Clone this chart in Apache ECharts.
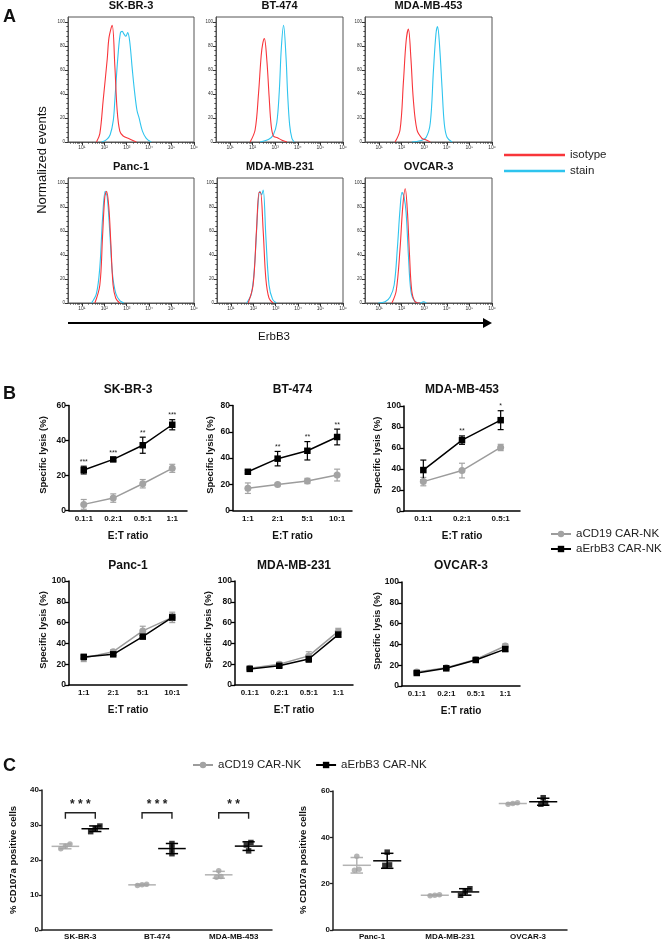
<!DOCTYPE html>
<html><head><meta charset="utf-8">
<script src="https://cdn.jsdelivr.net/npm/echarts@6/dist/echarts.min.js"></script>
<style>html,body{margin:0;padding:0;background:#fff}#c{width:662px;height:944px}</style>
</head><body><div id="c"></div>
<script>
// ================= DATA =================
// Panel A: flow cytometry histograms, x = log10(ErbB3 fluorescence), y = normalized events (%)
const flowCells = ['SK-BR-3','BT-474','MDA-MB-453','Panc-1','MDA-MB-231','OVCAR-3'];
const flowTickValues = [1,2,3,4,5,6];
const flowTickLabels = ['10¹','10²','10³','10⁴','10⁵','10⁶'];
const flowYTicks = [0,20,40,60,80,100];
const isotypeCurves = [
  [[1.65,0],[1.8,7],[1.95,35],[2.13,69],[2.21,87],[2.35,97],[2.47,63],[2.57,27],[2.69,9],[2.84,5],[3.13,2.5],[3.43,0]],
  [[1.89,0],[2.11,10],[2.26,40],[2.38,72],[2.45,82],[2.52,86],[2.63,68],[2.73,38],[2.82,14],[2.92,5],[3.1,3.5],[3.3,1.5],[3.52,0]],
  [[1.71,0],[1.93,10],[2.08,50],[2.2,84],[2.3,94],[2.41,70],[2.52,35],[2.68,10],[2.9,3],[3.04,2],[3.27,0]],
  [[1.58,0],[1.8,15],[1.92,55],[2.02,88],[2.1,93],[2.2,80],[2.29,50],[2.39,15],[2.51,4],[2.69,0]],
  [[1.77,0],[1.99,15],[2.14,60],[2.26,92],[2.32,92],[2.44,60],[2.56,20],[2.7,4],[2.88,0]],
  [[1.57,0],[1.76,10],[1.93,45],[2.05,80],[2.16,95],[2.26,75],[2.35,40],[2.45,10],[2.6,1],[2.82,0]]
];
const stainCurves = [
  [[1.88,0],[2.1,2],[2.26,6],[2.4,18],[2.47,35],[2.61,72],[2.72,91],[2.8,92],[2.87,90],[2.96,88],[3.04,91],[3.13,84],[3.25,60],[3.36,40],[3.46,26],[3.55,20],[3.7,9],[3.87,3],[4.09,0]],
  [[2.33,0],[2.7,2],[2.92,6],[3.07,16],[3.18,42],[3.27,78],[3.37,97],[3.48,70],[3.55,40],[3.64,14],[3.74,3],[3.84,0]],
  [[2.45,0],[2.82,1],[3.09,4],[3.27,16],[3.41,60],[3.52,90],[3.59,96],[3.68,80],[3.79,45],[3.89,15],[4.01,4],[4.23,0]],
  [[1.43,0],[1.65,8],[1.8,30],[1.92,70],[2.04,93],[2.13,88],[2.24,60],[2.36,25],[2.51,8],[2.69,2],[2.87,0]],
  [[1.7,0],[1.92,8],[2.07,35],[2.22,85],[2.29,93],[2.37,90],[2.44,94],[2.56,55],[2.7,15],[2.86,3],[3.03,0]],
  [[0.97,0],[1.27,1],[1.49,5],[1.67,15],[1.81,45],[1.93,78],[2.02,92],[2.11,88],[2.2,75],[2.3,40],[2.41,10],[2.56,2],[2.82,0],[2.96,1],[3.1,0]]
];

// Panel B: specific lysis (%), mean and SD
const lysisCells = ['SK-BR-3','BT-474','MDA-MB-453','Panc-1','MDA-MB-231','OVCAR-3'];
const ratiosSKBR3 = ['0.1:1','0.2:1','0.5:1','1:1'];
const ratiosBT474 = ['1:1','2:1','5:1','10:1'];
const ratiosMDA453 = ['0.1:1','0.2:1','0.5:1'];
const ratiosPanc1 = ['1:1','2:1','5:1','10:1'];
const ratiosMDA231 = ['0.1:1','0.2:1','0.5:1','1:1'];
const ratiosOVCAR3 = ['0.1:1','0.2:1','0.5:1','1:1'];
const lysisYMax = [60,80,100,100,100,100];
const cd19Mean = [[3.5,7.1,15.3,24.1],[17,19.8,22.5,27],[28,38.5,60.5],[26,32,52,65],[16,20,28,51.5],[13.5,17.5,25.5,38.5]];
const cd19SD   = [[2.8,2.4,2.4,2.3],[4,1,2,4.5],[4,7,3],[3.5,2,4.5,5],[1,2,4,3],[1,1,1,2]];
const erbb3Mean = [[23.1,29.2,37.3,49.0],[29.5,39.5,45.5,56],[39,67.5,86.5],[27,29.5,46.5,65],[15.5,18.5,25,48.5],[12.5,17,25,35.5]];
const erbb3SD   = [[2.2,0.9,4.6,2.9],[1,5.5,7,6],[9.5,4,9],[1.5,1,1,3],[1,1.5,3,2.5],[1,1,1,2]];
const lysisStars = [['***','***','**','***'],['','**','**','**'],['','**','*'],[],[],[]];

// Panel C: % CD107a positive cells (replicates)
const cdCellsLeft = ['SK-BR-3','BT-474','MDA-MB-453'];
const cdCD19Left  = [[23.2,23.9,24.6],[12.7,12.9,13.1],[15.1,15.3,16.9]];
const cdErbB3Left = [[28.1,29.0,29.7],[21.8,23.3,24.7],[22.6,24.3,25.0]];
const cdSigLeft   = ['* * *','* * *','* *'];
const cdCellsRight = ['Panc-1','MDA-MB-231','OVCAR-3'];
const cdCD19Right  = [[25.8,26.2,31.8],[14.8,15.0,15.2],[54.3,54.6,54.9]];
const cdErbB3Right = [[27.9,28.1,33.6],[15.0,16.5,17.8],[54.3,54.7,57.1]];

// ================= BUILD =================
const FONT = '"Liberation Sans", Arial, Helvetica, sans-serif';
const RED = '#f8353a', BLUE = '#2ec4ee', GRAY = '#a3a3a3', BLACK = '#000';
const grid = [], xAxis = [], yAxis = [], series = [], graphic = [];

function txt(x, y, text, size, o) {
  o = o || {};
  graphic.push({type:'text', x, y, rotation:o.rot||0, silent:true, z:100,
    style:{text, fontSize:size, fontWeight:o.bold?'bold':'normal', fontFamily:FONT,
      fill:o.color||'#111', align:o.align||'center', verticalAlign:'middle'}});
}

// ---------- Panel A ----------
const aBoxes = [
  {l:68,t:17,w:126,h:125},{l:216,t:17,w:127,h:125},{l:365,t:17,w:127,h:125},
  {l:68,t:178,w:126,h:125},{l:217,t:178,w:126,h:125},{l:365,t:178,w:127,h:125}];
const A_XMIN = 0.38, A_XMAX = 6.0, A_YMAX = 104;
const xMinor = [];
for (let n = 0; n < 6; n++) for (let k = 2; k < 10; k++) {
  const v = n + Math.log10(k); if (v > A_XMIN && v < A_XMAX) xMinor.push(v);
}
const yMinor = [];
for (let v = 4; v < 100; v += 4) if (v % 20) yMinor.push(v);

aBoxes.forEach((b, i) => {
  const gi = grid.length;
  grid.push({left:b.l, top:b.t, width:b.w, height:b.h, show:true, borderColor:'#555', borderWidth:1});
  const xi = xAxis.length;
  xAxis.push({type:'value', gridIndex:gi, position:'bottom', min:A_XMIN, max:A_XMAX,
    axisLine:{show:true, onZero:false, lineStyle:{color:'#555', width:1}}, splitLine:{show:false},
    axisTick:{show:true, length:3, customValues:flowTickValues, lineStyle:{color:'#333'}},
    axisLabel:{customValues:flowTickValues, formatter:(v)=>flowTickLabels[flowTickValues.indexOf(Math.round(v))]||'',
      fontSize:5, color:'#333', margin:3, fontFamily:FONT, showMinLabel:true, showMaxLabel:true, hideOverlap:false}});
  xAxis.push({type:'value', gridIndex:gi, position:'bottom', min:A_XMIN, max:A_XMAX, axisLine:{show:false, onZero:false}, splitLine:{show:false},
    axisTick:{show:true, length:1.6, customValues:xMinor, lineStyle:{color:'#444'}}, axisLabel:{show:false}});
  const yi = yAxis.length;
  yAxis.push({type:'value', gridIndex:gi, position:'left', min:0, max:A_YMAX,
    axisLine:{show:true, onZero:false, lineStyle:{color:'#555', width:1}}, splitLine:{show:false},
    axisTick:{show:true, length:3, customValues:flowYTicks, lineStyle:{color:'#333'}},
    axisLabel:{customValues:flowYTicks, fontSize:4.5, color:'#333', margin:3, fontFamily:FONT}});
  yAxis.push({type:'value', gridIndex:gi, position:'left', min:0, max:A_YMAX, axisLine:{show:false, onZero:false}, splitLine:{show:false},
    axisTick:{show:true, length:1.6, customValues:yMinor, lineStyle:{color:'#444'}}, axisLabel:{show:false}});
  series.push({type:'line', name:'stain', xAxisIndex:xi, yAxisIndex:yi, data:stainCurves[i], smooth:0.35,
    symbol:'none', lineStyle:{color:BLUE, width:1.1}, itemStyle:{color:BLUE}, silent:true, z:3});
  series.push({type:'line', name:'isotype', xAxisIndex:xi, yAxisIndex:yi, data:isotypeCurves[i], smooth:0.35,
    symbol:'none', lineStyle:{color:RED, width:1.1}, itemStyle:{color:RED}, silent:true, z:4});
  txt(b.l + b.w/2, b.t - 11.5, flowCells[i], 11, {bold:true});
});
txt(3, 17, 'A', 18, {bold:true, align:'left'});
txt(42, 160, 'Normalized events', 13, {rot:Math.PI/2});
graphic.push({type:'line', silent:true, shape:{x1:68, y1:323, x2:484, y2:323}, style:{stroke:'#000', lineWidth:2}});
graphic.push({type:'polygon', silent:true, shape:{points:[[483,318],[492,323],[483,328]]}, style:{fill:'#000'}});
txt(274, 337, 'ErbB3', 11.5);

// ---------- Panel B ----------
const bBoxes = [
  {l:69,t:405.5,w:118,h:105},{l:233,t:405.5,w:119,h:105},{l:404,t:406,w:116,h:105},
  {l:69,t:581,w:118,h:104},{l:235,t:581,w:118,h:104},{l:402,t:582,w:118,h:104}];
const bRatios = [ratiosSKBR3, ratiosBT474, ratiosMDA453, ratiosPanc1, ratiosMDA231, ratiosOVCAR3];
const bYNameX = [43,210,377,43,208,377];

function errRender(color, cap) {
  return function(params, api) {
    const x = api.value(0), m = api.value(1), s = api.value(2);
    const p1 = api.coord([x, m + s]), p2 = api.coord([x, m - s]);
    const st = {stroke:color, lineWidth:1.2};
    return {type:'group', children:[
      {type:'line', shape:{x1:p1[0], y1:p1[1], x2:p2[0], y2:p2[1]}, style:st},
      {type:'line', shape:{x1:p1[0]-cap, y1:p1[1], x2:p1[0]+cap, y2:p1[1]}, style:st},
      {type:'line', shape:{x1:p2[0]-cap, y1:p2[1], x2:p2[0]+cap, y2:p2[1]}, style:st}]};
  };
}

bBoxes.forEach((b, i) => {
  const gi = grid.length;
  grid.push({left:b.l, top:b.t, width:b.w, height:b.h});
  const xi = xAxis.length, yi = yAxis.length;
  xAxis.push({type:'category', gridIndex:gi, position:'bottom', data:bRatios[i], boundaryGap:true,
    axisLine:{onZero:false, lineStyle:{color:'#000', width:1.5}},
    axisTick:{alignWithLabel:true, length:4, lineStyle:{color:'#000', width:1.3}},
    axisLabel:{fontSize:8, fontWeight:'bold', color:'#111', margin:4, fontFamily:FONT, interval:0}});
  yAxis.push({type:'value', gridIndex:gi, position:'left', min:0, max:lysisYMax[i], interval:20, splitLine:{show:false},
    axisLine:{show:true, onZero:false, lineStyle:{color:'#000', width:1.5}},
    axisTick:{show:true, length:4, lineStyle:{color:'#000', width:1.3}},
    axisLabel:{fontSize:8.5, fontWeight:'bold', color:'#111', margin:3, fontFamily:FONT}});
  series.push({type:'custom', xAxisIndex:xi, yAxisIndex:yi, renderItem:errRender(GRAY, 3), silent:true, z:2,
    data:cd19Mean[i].map((m, k) => [k, m, cd19SD[i][k]])});
  series.push({type:'custom', xAxisIndex:xi, yAxisIndex:yi, renderItem:errRender(BLACK, 3), silent:true, z:2,
    data:erbb3Mean[i].map((m, k) => [k, m, erbb3SD[i][k]])});
  series.push({type:'line', name:'aCD19 CAR-NK', xAxisIndex:xi, yAxisIndex:yi, data:cd19Mean[i],
    symbol:'circle', symbolSize:7, lineStyle:{color:'#9c9c9c', width:1.5}, itemStyle:{color:GRAY}, silent:true, z:3});
  series.push({type:'line', name:'aErbB3 CAR-NK', xAxisIndex:xi, yAxisIndex:yi, data:erbb3Mean[i],
    symbol:'rect', symbolSize:6.5, lineStyle:{color:BLACK, width:1.5}, itemStyle:{color:BLACK}, silent:true, z:4});
  const stars = lysisStars[i];
  if (stars.length) {
    series.push({type:'custom', xAxisIndex:xi, yAxisIndex:yi, silent:true, z:5,
      data:erbb3Mean[i].map((m, k) => [k, m + erbb3SD[i][k]]),
      renderItem:(params, api) => {
        const s = stars[params.dataIndex]; if (!s) return null;
        const p = api.coord([api.value(0), api.value(1)]);
        return {type:'text', x:p[0], y:p[1] - 4.5, style:{text:s, fontSize:7, fontFamily:FONT, fill:'#222', align:'center', verticalAlign:'middle'}};
      }});
  }
  txt(b.l + b.w/2, i < 3 ? 390 : 566, lysisCells[i], 12, {bold:true});
  txt(bYNameX[i], b.t + b.h/2 - 3, 'Specific lysis (%)', 9.5, {bold:true, rot:Math.PI/2});
  txt(b.l + b.w/2, b.t + b.h + 25.5, 'E:T ratio', 10, {bold:true});
});
txt(3, 394, 'B', 18, {bold:true, align:'left'});

// ---------- Panel C ----------
const cPanels = [
  {l:42, t:790, w:230, h:140, ymax:40, iv:10, cells:cdCellsLeft, g:cdCD19Left, k:cdErbB3Left, sig:cdSigLeft, nameX:13},
  {l:333, t:791, w:234, h:139, ymax:60, iv:20, cells:cdCellsRight, g:cdCD19Right, k:cdErbB3Right, sig:null, nameX:303}];
const GROUP_OFF = 0.195, MEAN_HALF = 0.18, CAP_HALF = 0.08, SPREAD = 0.06;
const BRACKET_AT = 33.5;

function spreadOffsets(vals, pxPerUnit) {
  const idx = vals.map((v, i) => i).sort((a, b) => vals[a] - vals[b]);
  const off = vals.map(() => 0);
  const clusters = [[idx[0]]];
  for (let j = 1; j < idx.length; j++) {
    const c = clusters[clusters.length - 1];
    if ((vals[idx[j]] - vals[c[c.length - 1]]) * pxPerUnit < 4.5) c.push(idx[j]); else clusters.push([idx[j]]);
  }
  clusters.forEach(c => c.forEach((ii, j) => off[ii] = (j - (c.length - 1) / 2) * SPREAD));
  return off;
}
const meanOf = a => a.reduce((s, v) => s + v, 0) / a.length;
const sdOf = a => { const m = meanOf(a); return Math.sqrt(a.reduce((s, v) => s + (v - m) * (v - m), 0) / (a.length - 1)); };

function meanSdRender(color) {
  return function(params, api) {
    const x = api.value(0), m = api.value(1), s = api.value(2);
    const a = api.coord([x - MEAN_HALF, m]), b = api.coord([x + MEAN_HALF, m]);
    const t = api.coord([x, m + s]), d = api.coord([x, m - s]);
    const cl = api.coord([x - CAP_HALF, m]), cr = api.coord([x + CAP_HALF, m]);
    const st = {stroke:color, lineWidth:1.5};
    return {type:'group', children:[
      {type:'line', shape:{x1:a[0], y1:a[1], x2:b[0], y2:b[1]}, style:st},
      {type:'line', shape:{x1:t[0], y1:t[1], x2:d[0], y2:d[1]}, style:st},
      {type:'line', shape:{x1:cl[0], y1:t[1], x2:cr[0], y2:t[1]}, style:st},
      {type:'line', shape:{x1:cl[0], y1:d[1], x2:cr[0], y2:d[1]}, style:st}]};
  };
}

cPanels.forEach(p => {
  const gi = grid.length;
  grid.push({left:p.l, top:p.t, width:p.w, height:p.h});
  xAxis.push({type:'category', gridIndex:gi, position:'bottom', data:p.cells, boundaryGap:true,
    axisLine:{onZero:false, lineStyle:{color:'#222', width:1.5}},
    axisTick:{alignWithLabel:true, length:3, lineStyle:{color:'#222', width:1.3}},
    axisLabel:{fontSize:8, fontWeight:'bold', color:'#111', margin:3, fontFamily:FONT, interval:0}});
  const xv = xAxis.length;
  xAxis.push({type:'value', gridIndex:gi, position:'bottom', min:-0.5, max:2.5, show:false, axisLine:{onZero:false}});
  const yi = yAxis.length;
  yAxis.push({type:'value', gridIndex:gi, position:'left', min:0, max:p.ymax, interval:p.iv, splitLine:{show:false},
    axisLine:{show:true, onZero:false, lineStyle:{color:'#222', width:1.5}},
    axisTick:{show:true, length:3, lineStyle:{color:'#222', width:1.3}},
    axisLabel:{fontSize:8, fontWeight:'bold', color:'#111', margin:3, fontFamily:FONT}});
  const ppu = p.h / p.ymax;
  [[p.g, -GROUP_OFF, GRAY, '#b3b3b3', 'circle'], [p.k, GROUP_OFF, BLACK, BLACK, 'rect']].forEach(([groups, go, col, lineCol, sym]) => {
    series.push({type:'custom', xAxisIndex:xv, yAxisIndex:yi, silent:true, z:3, renderItem:meanSdRender(lineCol),
      data:groups.map((vals, ci) => [ci + go, meanOf(vals), sdOf(vals)])});
    const pts = [];
    groups.forEach((vals, ci) => { const off = spreadOffsets(vals, ppu); vals.forEach((v, j) => pts.push([ci + go + off[j], v])); });
    series.push({type:'scatter', xAxisIndex:xv, yAxisIndex:yi, data:pts, symbol:sym, symbolSize:5.5,
      itemStyle:{color:col}, silent:true, z:4});
  });
  if (p.sig) {
    const sig = p.sig;
    series.push({type:'custom', xAxisIndex:xv, yAxisIndex:yi, silent:true, z:5,
      data:sig.map((s, ci) => [ci, BRACKET_AT]),
      renderItem:(params, api) => {
        const ci = api.value(0), y = api.value(1);
        const a = api.coord([ci - GROUP_OFF, y]), b = api.coord([ci + GROUP_OFF, y]);
        const st = {stroke:'#222', lineWidth:1.4, fill:null};
        return {type:'group', children:[
          {type:'polyline', shape:{points:[[a[0], a[1] + 6], [a[0], a[1]], [b[0], b[1]], [b[0], b[1] + 6]]}, style:st},
          {type:'text', x:(a[0] + b[0]) / 2, y:a[1] - 8, style:{text:sig[params.dataIndex], fontSize:12, fontWeight:'bold', fontFamily:FONT, fill:'#222', align:'center', verticalAlign:'middle'}}]};
      }});
  }
  txt(p.nameX, 860, '% CD107a positive cells', 9.5, {bold:true, rot:Math.PI/2});
});
txt(3, 766, 'C', 18, {bold:true, align:'left'});

const legendText = {fontSize:11.5, fontFamily:FONT, color:'#222', lineHeight:14};
const option = {
  animation:false,
  backgroundColor:'#fff',
  grid, xAxis, yAxis, series, graphic,
  legend:[
    {data:['isotype','stain'], orient:'vertical', left:504, top:148, padding:0, itemGap:2,
      icon:'rect', itemWidth:61, itemHeight:2.5, selectedMode:false, textStyle:legendText},
    {data:['aCD19 CAR-NK','aErbB3 CAR-NK'], orient:'vertical', left:550, top:527, padding:0, itemGap:1,
      itemWidth:20, itemHeight:8, selectedMode:false, textStyle:legendText},
    {data:['aCD19 CAR-NK','aErbB3 CAR-NK'], orient:'horizontal', left:192, top:758, padding:0, itemGap:14,
      itemWidth:20, itemHeight:8, selectedMode:false, textStyle:legendText}]
};
const chart = echarts.init(document.getElementById('c'), null, {renderer:'canvas', width:662, height:944});
chart.setOption(option);
</script>
</body></html>
